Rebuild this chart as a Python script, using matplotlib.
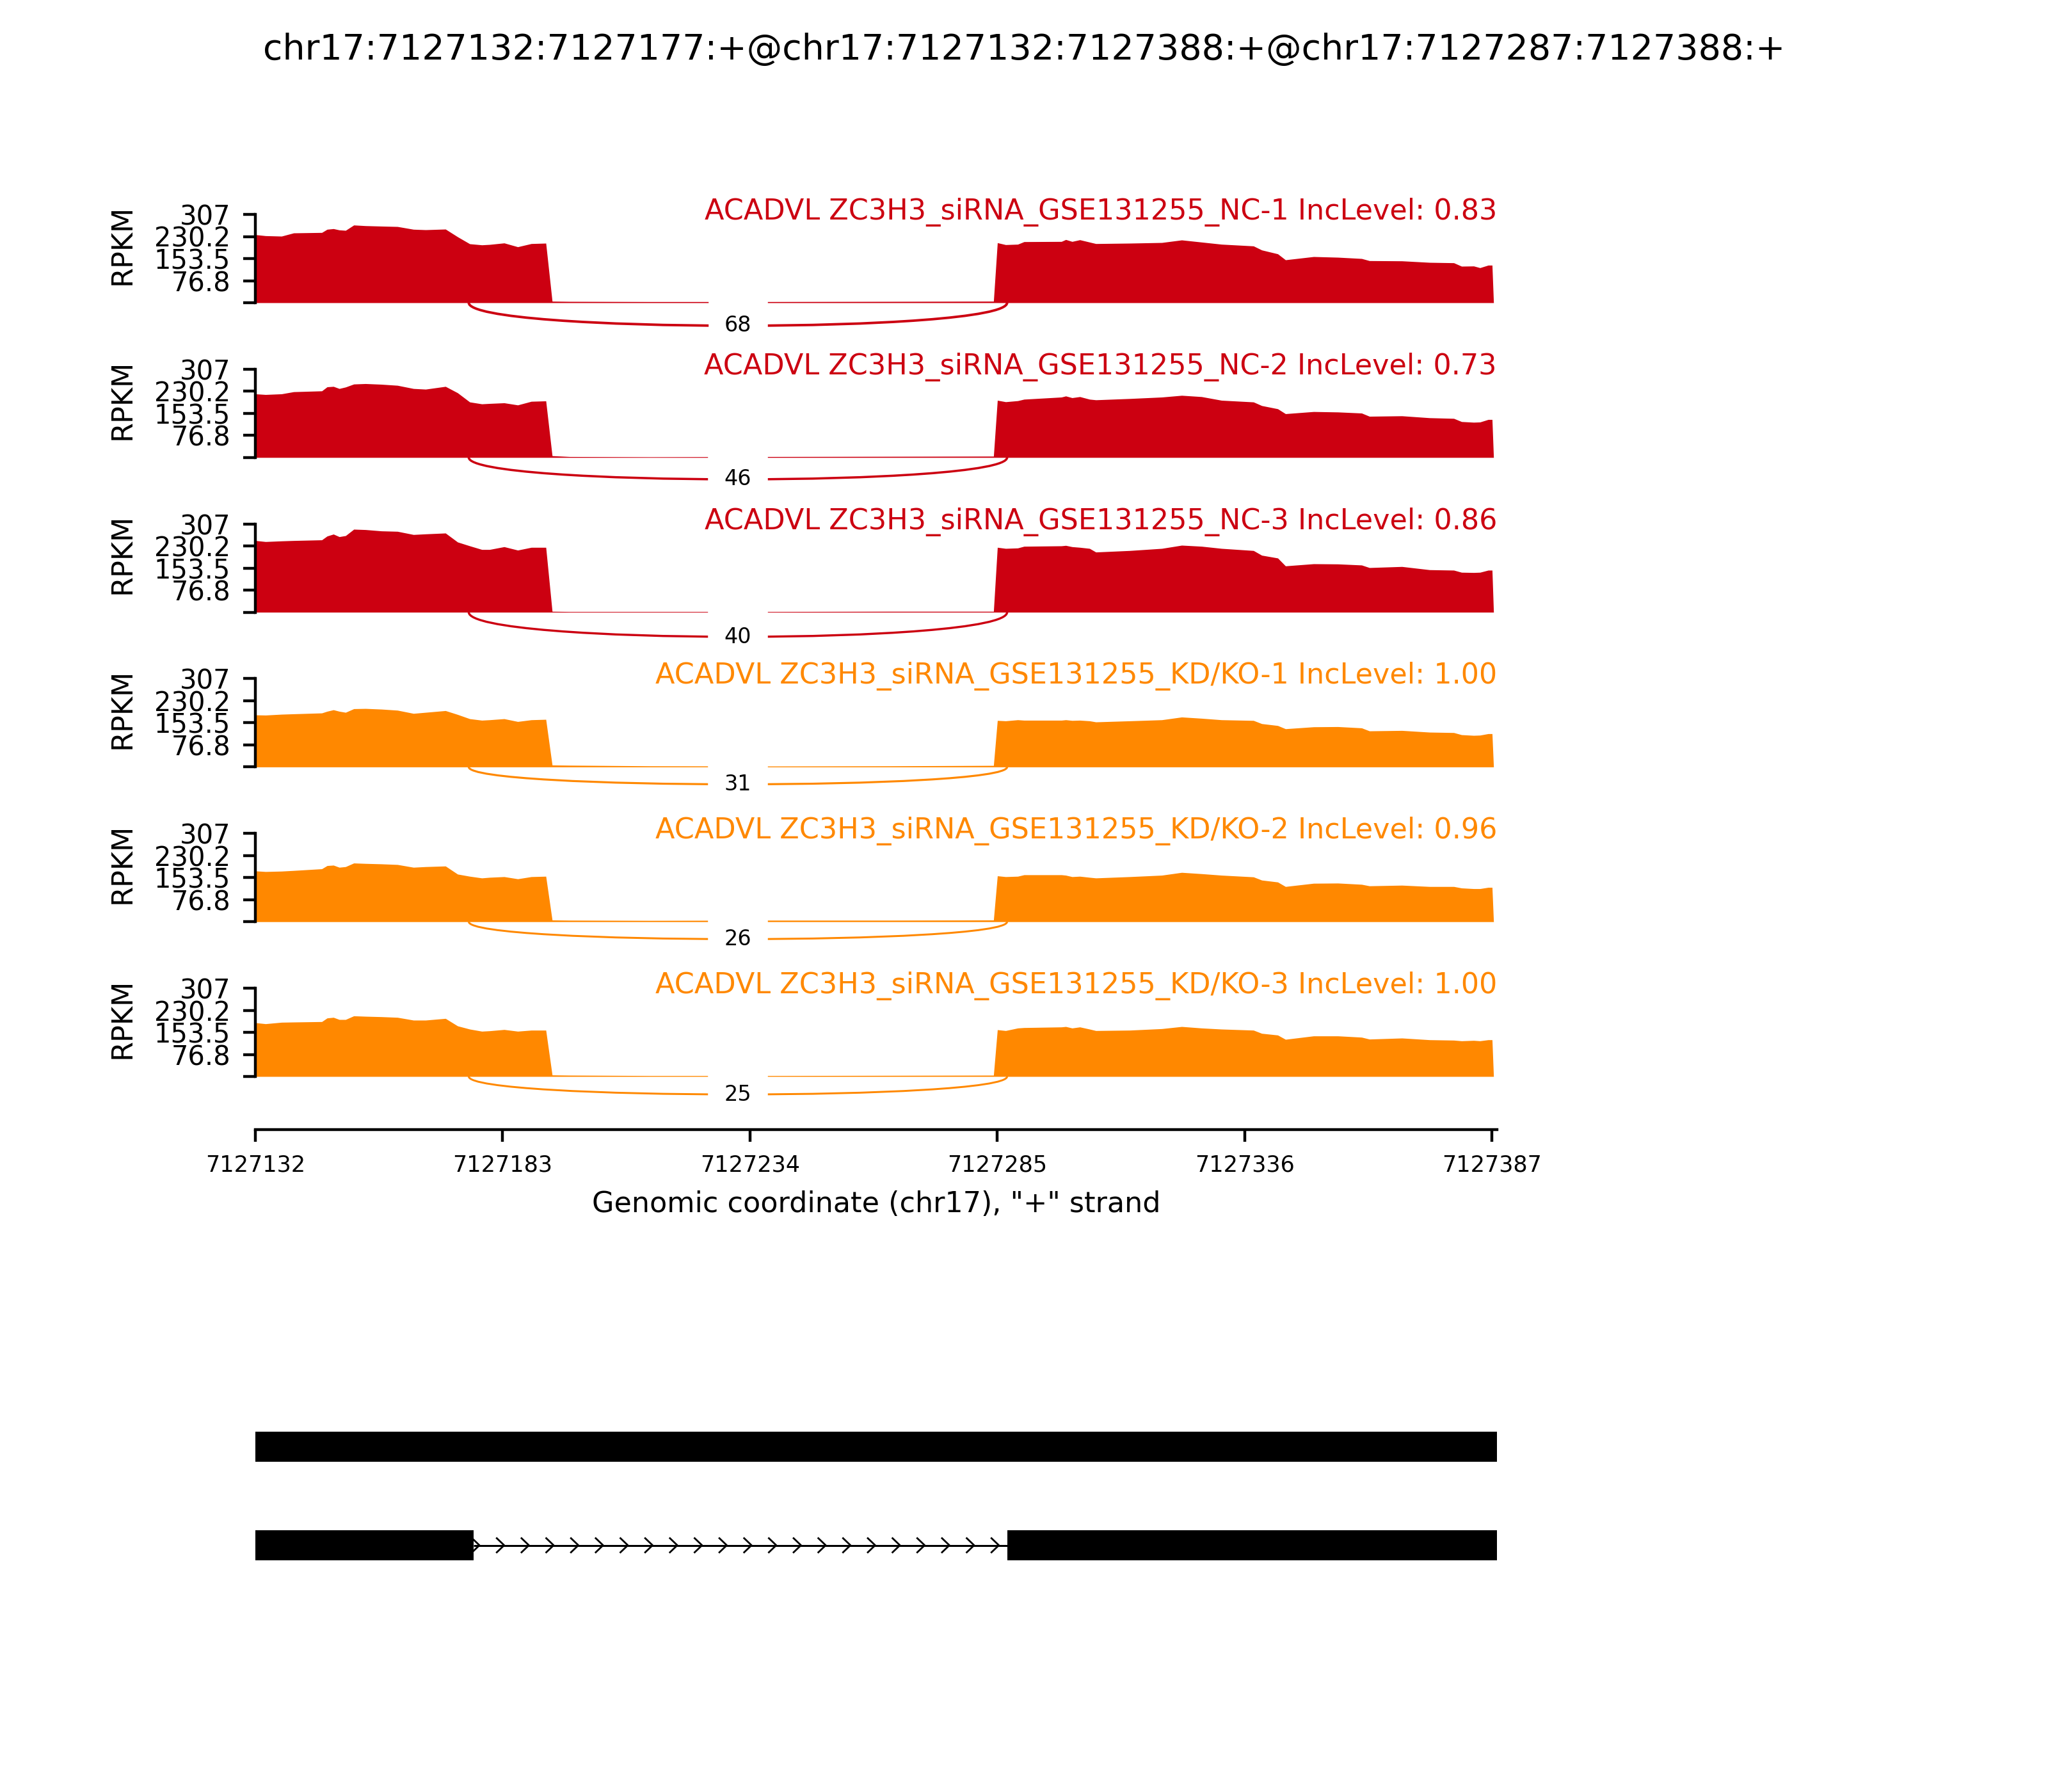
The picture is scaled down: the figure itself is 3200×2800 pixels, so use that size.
import numpy as np
import matplotlib
matplotlib.use("Agg")
import matplotlib.pyplot as plt
from matplotlib.path import Path
from matplotlib.patches import PathPatch, Rectangle

# ---------------- data ----------------
title = "chr17:7127132:7127177:+@chr17:7127132:7127388:+@chr17:7127287:7127388:+"
region_start = 7127132
region_end = 7127388
xlabel = 'Genomic coordinate (chr17), "+" strand'

sample_names = [
    "ZC3H3_siRNA_GSE131255_NC-1",
    "ZC3H3_siRNA_GSE131255_NC-2",
    "ZC3H3_siRNA_GSE131255_NC-3",
    "ZC3H3_siRNA_GSE131255_KD/KO-1",
    "ZC3H3_siRNA_GSE131255_KD/KO-2",
    "ZC3H3_siRNA_GSE131255_KD/KO-3",
]
gene_name = "ACADVL"
inc_levels = ["0.83", "0.73", "0.86", "1.00", "0.96", "1.00"]
junction_reads = [68, 46, 40, 31, 26, 25]
junction_left = 7127176
junction_right = 7127287
sample_colors = ["#CC0011", "#CC0011", "#CC0011", "#FF8800", "#FF8800", "#FF8800"]

# coverage knots (bp offset from region start)
cov_offsets = [0, 2.1, 5.4, 7.9, 13.7, 14.8, 16.1, 17.3, 18.6, 20.3, 22.7, 26.0, 29.3,
               32.6, 35.1, 39.2, 41.7, 44.2, 46.7, 48.3, 51.3, 54.1, 56.9, 59.9, 61.2,
               64.8, 81.3, 106.0, 130.8, 152.2,
               153.0, 154.7, 157.2, 158.5, 166.2, 167.1, 168.4, 170.0, 172.0, 173.3,
               180.3, 186.9, 191.0, 195.1, 199.2, 205.8, 207.5, 210.8, 212.4, 218.2,
               223.2, 228.1, 229.7, 236.4, 242.1, 247.1, 248.7, 251.2, 252.5, 254.2,
               255.0, 255.3]

cov_nc1 = [236.5, 232.8, 231.3, 242.5, 244.0, 255.1, 257.3, 252.9, 251.4, 269.9, 267.6, 266.1, 264.7,
           255.1, 253.6, 255.8, 229.1, 204.7, 200.9, 202.4, 207.6, 194.3, 205.4, 206.9, 5.2,
           4.4, 3.7, 3.7, 4.4, 5.2,
           208.4, 201.7, 203.2, 212.1, 212.8, 219.5, 212.8, 218.7, 210.6, 205.4,
           206.9, 209.1, 218.0, 210.6, 203.2, 197.2, 183.2, 169.8, 149.0, 160.2,
           157.9, 153.5, 146.1, 145.3, 140.1, 138.7, 126.8, 127.5, 121.6, 130.5,
           130.5, 0]
cov_nc2 = [221.0, 218.7, 221.0, 228.4, 231.3, 245.4, 246.9, 239.5, 244.7, 255.1, 256.6, 254.3, 250.6,
           239.5, 237.3, 246.9, 224.7, 192.8, 186.1, 187.6, 189.8, 182.4, 195.0, 196.5, 5.9,
           3.0, 2.2, 3.0, 3.7, 4.4,
           198.7, 193.5, 197.2, 202.4, 209.8, 213.6, 207.6, 211.3, 202.4, 200.2,
           204.7, 209.8, 215.8, 211.3, 198.7, 192.8, 180.2, 169.1, 152.0, 159.4,
           157.9, 154.2, 143.1, 144.6, 137.9, 135.7, 124.6, 122.3, 123.1, 132.0,
           132.0, 0]
cov_nc3 = [249.1, 245.4, 247.7, 249.1, 251.4, 264.7, 271.4, 262.5, 266.1, 288.4, 287.0, 282.5, 281.0,
           269.9, 272.1, 275.1, 243.9, 230.6, 218.0, 218.0, 227.6, 215.8, 225.4, 225.4, 3.0,
           2.2, 2.2, 2.2, 3.0, 3.0,
           225.4, 221.7, 223.2, 229.1, 230.6, 232.1, 227.6, 225.4, 221.7, 209.1,
           214.3, 221.7, 232.8, 229.1, 221.7, 214.3, 198.0, 188.3, 160.9, 168.3,
           167.6, 163.9, 155.0, 158.7, 147.6, 146.1, 138.7, 137.9, 138.7, 146.1,
           146.1, 0]
cov_kd1 = [180.9, 180.2, 183.2, 184.6, 187.6, 193.5, 198.7, 193.5, 189.8, 202.4, 203.2, 200.9, 197.2,
           186.1, 189.8, 195.8, 182.4, 167.6, 162.4, 163.9, 167.6, 157.9, 163.9, 165.4, 6.7,
           5.9, 3.7, 3.0, 3.7, 5.2,
           161.6, 160.2, 163.9, 162.4, 162.4, 163.9, 161.6, 162.4, 160.2, 156.5,
           160.2, 163.9, 173.5, 169.1, 163.9, 161.6, 150.5, 143.9, 132.7, 139.4,
           140.1, 135.7, 125.3, 126.8, 120.9, 119.4, 112.0, 109.7, 110.5, 115.7,
           115.7, 0]
cov_kd2 = [176.5, 174.3, 175.7, 178.0, 183.9, 195.0, 196.5, 189.1, 191.3, 203.9, 202.4, 200.9, 198.7,
           189.1, 191.3, 193.5, 165.4, 157.9, 152.0, 154.2, 156.5, 149.0, 156.5, 157.9, 5.9,
           5.2, 4.4, 5.2, 5.2, 5.9,
           159.4, 156.5, 157.9, 163.1, 163.1, 161.6, 156.5, 157.9, 154.2, 152.0,
           156.5, 161.6, 171.3, 166.8, 161.6, 155.7, 144.6, 137.9, 122.3, 133.5,
           134.2, 129.8, 124.6, 126.8, 122.3, 122.3, 117.2, 114.9, 114.9, 119.4,
           119.4, 0]
cov_kd3 = [186.9, 183.2, 188.3, 189.1, 190.6, 203.2, 205.4, 198.0, 198.0, 210.6, 209.1, 207.6, 205.4,
           195.8, 195.8, 201.7, 175.7, 164.6, 157.2, 158.7, 163.1, 157.2, 160.9, 160.9, 5.2,
           4.4, 3.0, 3.0, 3.7, 4.4,
           162.4, 159.4, 168.3, 169.8, 172.0, 173.5, 168.3, 172.0, 164.6, 159.4,
           160.9, 166.1, 173.5, 168.3, 164.6, 160.9, 149.8, 143.9, 129.0, 140.9,
           140.9, 136.4, 129.8, 133.5, 127.5, 126.1, 123.8, 125.3, 123.8, 127.5,
           127.5, 0]
coverages = [cov_nc1, cov_nc2, cov_nc3, cov_kd1, cov_kd2, cov_kd3]

y_max = 307
ytick_labels = ["", "76.8", "153.5", "230.2", "307"]
xtick_positions = [7127132, 7127183, 7127234, 7127285, 7127336, 7127387]

# transcripts (exon start, exon end)
transcript_retained = [(7127132, 7127177), (7127177, 7127287), (7127287, 7127388)]
transcript_spliced = [(7127132, 7127177), (7127287, 7127388)]

# ---------------- figure ----------------
W, H = 3200, 2800
fig = plt.figure(figsize=(8, 7), dpi=400)
ax_left = 399 / W
ax_width = 1940 / W
panel_h = 138
first_base = 473
panel_step = 241.8

xs = region_start + np.array(cov_offsets)
for i in range(6):
    base = first_base + panel_step * i
    ax = fig.add_axes([ax_left, 1 - base / H, ax_width, panel_h / H])
    col = sample_colors[i]
    ys = np.array(coverages[i])
    ax.fill_between(xs, ys, 0, color=col, lw=0, zorder=1)
    ax.set_xlim(region_start, region_end)
    ax.set_ylim(0, y_max)
    for s in ["top", "right", "bottom"]:
        ax.spines[s].set_visible(False)
    ax.set_xticks([])
    ax.set_yticks(np.linspace(0, y_max, 5))
    ax.set_yticklabels(ytick_labels, fontsize=7.5)
    ax.tick_params(axis="y", direction="out")
    ax.set_ylabel("RPKM", fontsize=8)
    ax.yaxis.set_label_coords(-0.0959, 0.659)
    ax.patch.set_visible(False)

    # junction arc
    h = 0.395 * ys.max()
    ss1, ss2 = junction_left, junction_right
    pts = [(ss1, 0), (ss1, -h), (ss2, -h), (ss2, 0)]
    path = Path(pts, [Path.MOVETO, Path.CURVE4, Path.CURVE4, Path.CURVE4])
    lw = 0.165 * np.log(junction_reads[i] + 1)
    ax.add_patch(PathPatch(path, ec=col, fc="none", lw=lw, clip_on=False, zorder=2))
    ax.text((ss1 + ss2) / 2, -0.75 * h, str(junction_reads[i]), fontsize=6,
            ha="center", va="center", backgroundcolor="w", clip_on=False, zorder=5)

    ax.text(region_end, y_max - 8 * y_max / panel_h,
            f"{gene_name} {sample_names[i]} IncLevel: {inc_levels[i]}",
            ha="right", va="baseline", color=col, fontsize=8)

# x axis
axx = fig.add_axes([ax_left, 1 - 1765 / H, ax_width, 1 / H])
axx.set_xlim(region_start, region_end)
for s in ["top", "right", "left"]:
    axx.spines[s].set_visible(False)
axx.set_yticks([])
axx.set_xticks(xtick_positions)
axx.set_xticklabels([str(v) for v in xtick_positions], fontsize=6.3)
axx.set_xlabel(xlabel, fontsize=8)
axx.patch.set_visible(False)

# gene models
axg = fig.add_axes([ax_left, 1 - 2491.5 / H, ax_width, 308 / H])
axg.set_xlim(region_start, region_end)
axg.set_ylim(-0.5, 1.5)
axg.axis("off")
bar_h = 47 / 154
chev_h = 11 / 154
chev_w = 1.52
for row, tx in zip([1, 0], [transcript_retained, transcript_spliced]):
    for s, e in tx:
        axg.add_patch(Rectangle((s, row - bar_h / 2), e - s, bar_h, fc="k", ec="none", lw=0))
    for (s1, e1), (s2, e2) in zip(tx[:-1], tx[1:]):
        if s2 > e1:
            axg.plot([e1, s2], [row, row], color="k", lw=0.55, solid_capstyle="butt")
            for t in np.arange(e1 + 1.2, s2 - 1, 5.1):
                axg.plot([t - chev_w, t, t - chev_w], [row + chev_h, row, row - chev_h],
                         color="k", lw=0.5)

fig.text(0.5, 1 - 78 / H, title, ha="center", va="center", fontsize=10)

fig.savefig("out.png", dpi=400)
